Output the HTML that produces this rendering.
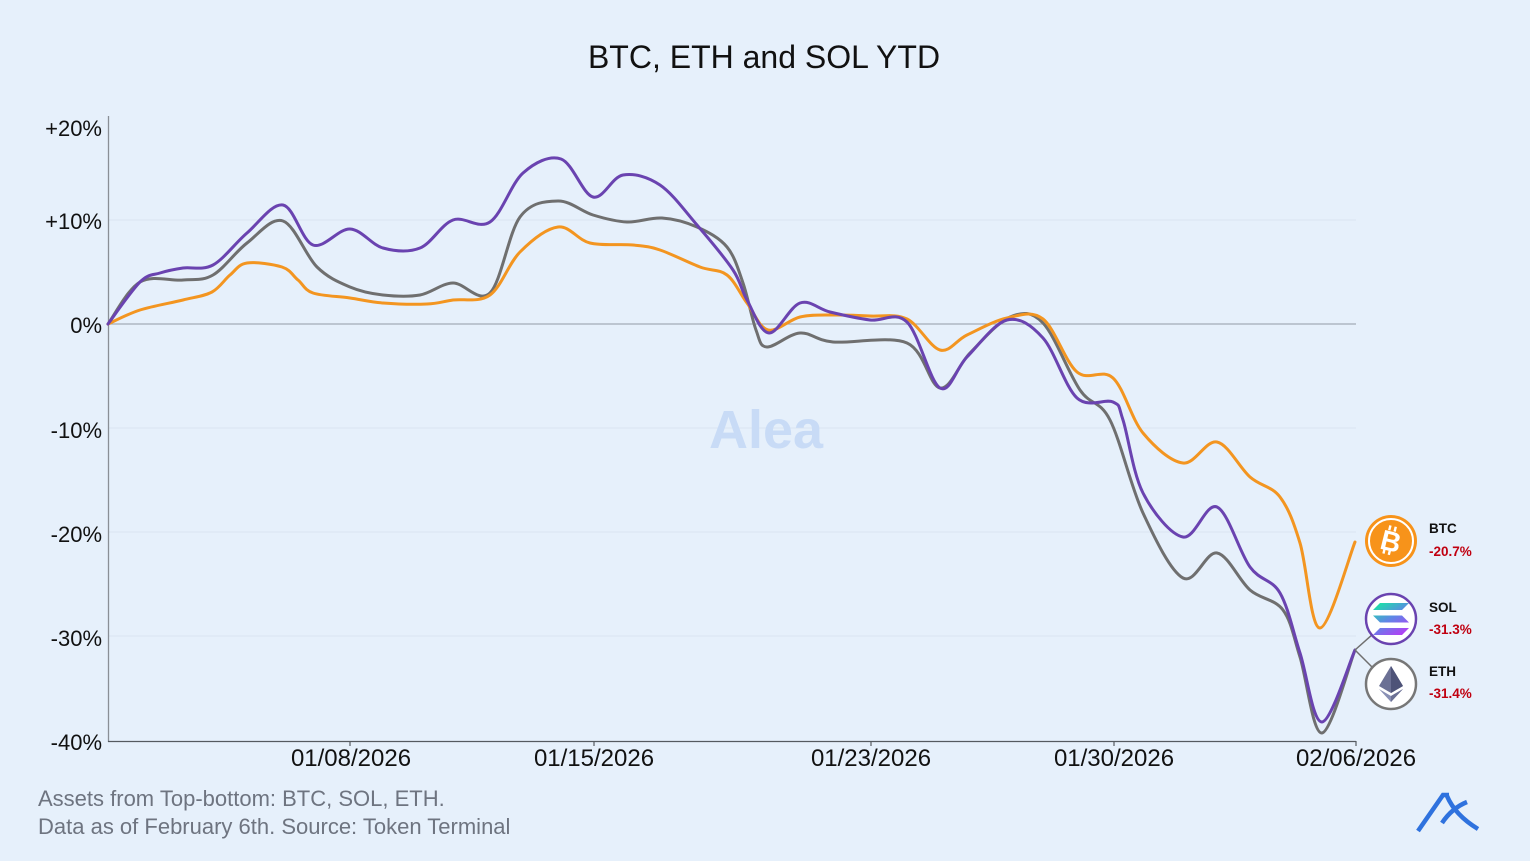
<!DOCTYPE html>
<html><head><meta charset="utf-8">
<style>
html,body{margin:0;padding:0;background:#e6f0fb;}
svg{display:block;}
text{font-family:"Liberation Sans",sans-serif;}
</style></head>
<body>
<svg id="s" width="1530" height="861" viewBox="0 0 1530 861" xmlns="http://www.w3.org/2000/svg">
<defs>
<linearGradient id="solg" gradientUnits="userSpaceOnUse" x1="1380" y1="602" x2="1400" y2="636">
<stop offset="0" stop-color="#19e3a6"/><stop offset="0.5" stop-color="#5f86e6"/><stop offset="1" stop-color="#b33ef5"/>
</linearGradient>
</defs>
<rect width="1530" height="861" fill="#e6f0fb"/>
<text x="764" y="68" font-size="32" text-anchor="middle" fill="#111">BTC, ETH and SOL YTD</text>

<!-- gridlines -->
<g stroke="#d9e4f1" stroke-width="1">
<line x1="108" y1="220" x2="1356" y2="220"/>
<line x1="108" y1="428" x2="1356" y2="428"/>
<line x1="108" y1="532" x2="1356" y2="532"/>
<line x1="108" y1="636" x2="1356" y2="636"/>
</g>
<line x1="108" y1="324" x2="1356" y2="324" stroke="#a4abb6" stroke-width="1.2"/>

<text x="766" y="448" font-size="54" font-weight="bold" text-anchor="middle" fill="#c8dbf6">Alea</text>

<!-- axes -->
<line x1="108.5" y1="116" x2="108.5" y2="742" stroke="#8a8f96" stroke-width="1.3"/>
<line x1="108" y1="741.5" x2="1356" y2="741.5" stroke="#555a60" stroke-width="1.3"/>
<g stroke="#555a60" stroke-width="1.2">
<line x1="350" y1="741" x2="350" y2="746"/>
<line x1="594" y1="741" x2="594" y2="746"/>
<line x1="871" y1="741" x2="871" y2="746"/>
<line x1="1114" y1="741" x2="1114" y2="746"/>
<line x1="1356" y1="741" x2="1356" y2="746"/>
</g>

<g font-size="22" text-anchor="end" fill="#111">
<text x="102" y="136">+20%</text>
<text x="102" y="229">+10%</text>
<text x="102" y="333">0%</text>
<text x="102" y="438">-10%</text>
<text x="102" y="542">-20%</text>
<text x="102" y="646">-30%</text>
<text x="102" y="750">-40%</text>
</g>
<g font-size="24" text-anchor="middle" fill="#111">
<text x="351" y="766">01/08/2026</text>
<text x="594" y="766">01/15/2026</text>
<text x="871" y="766">01/23/2026</text>
<text x="1114" y="766">01/30/2026</text>
<text x="1356" y="766">02/06/2026</text>
</g>

<g fill="none" stroke-width="3" stroke-linejoin="round" stroke-linecap="round">
<path id="pg" stroke="#6f6f6f"/>
<path id="po" stroke="#f39520"/>
<path id="pp" stroke="#6a43b0"/>
</g>

<!-- connectors -->
<g stroke="#6f6f6f" stroke-width="1.5">
<line x1="1355" y1="650" x2="1373" y2="634"/>
<line x1="1355" y1="650" x2="1372" y2="667"/>
</g>

<!-- BTC icon -->
<circle cx="1391" cy="541" r="26" fill="#f7931a"/>
<circle cx="1391" cy="541" r="22" fill="none" stroke="#fff" stroke-width="2"/>
<g transform="rotate(14 1391 541)">
<text x="1391" y="551" font-size="28" font-weight="bold" text-anchor="middle" fill="#fff">B</text>
<rect x="1385.5" y="526" width="2.4" height="5" fill="#fff"/>
<rect x="1391" y="526" width="2.4" height="5" fill="#fff"/>
<rect x="1385.5" y="550" width="2.4" height="5" fill="#fff"/>
<rect x="1391" y="550" width="2.4" height="5" fill="#fff"/>
</g>

<!-- SOL icon -->
<circle cx="1391" cy="619" r="25" fill="#fff" stroke="#6a43b0" stroke-width="2.5"/>
<g fill="url(#solg)">
<polygon points="1380,603 1409,603 1402,610 1373,610"/>
<polygon points="1373,615.5 1402,615.5 1409,622.5 1380,622.5"/>
<polygon points="1380,628 1409,628 1402,635 1373,635"/>
</g>

<!-- ETH icon -->
<circle cx="1391" cy="684" r="25" fill="#fff" stroke="#777" stroke-width="2.5"/>
<polygon points="1391,666 1379,686 1391,693 1403,686" fill="#6b7094"/>
<polygon points="1391,666 1391,693 1403,686" fill="#4e5378"/>
<polygon points="1379,689 1391,702 1403,689 1391,696" fill="#8990b5"/>
<polygon points="1391,696 1391,702 1403,689" fill="#6b7094"/>

<g font-weight="bold">
<text x="1429" y="533" font-size="13.5" fill="#111">BTC</text>
<text x="1429" y="556" font-size="13.5" fill="#c00010">-20.7%</text>
<text x="1429" y="612" font-size="13.5" fill="#111">SOL</text>
<text x="1429" y="634" font-size="13.5" fill="#c00010">-31.3%</text>
<text x="1429" y="676" font-size="13.5" fill="#111">ETH</text>
<text x="1429" y="698" font-size="13.5" fill="#c00010">-31.4%</text>
</g>

<g font-size="22" fill="#6e7480">
<text x="38" y="806">Assets from Top-bottom: BTC, SOL, ETH.</text>
<text x="38" y="834">Data as of February 6th. Source: Token Terminal</text>
</g>

<!-- logo -->
<g fill="none" stroke="#2f72de" stroke-width="4.5" stroke-linecap="butt">
<path d="M1418,831 L1443,795 L1449,795"/>
<path d="M1447,796 Q1455,815 1478,829"/>
<path d="M1442,823 Q1452,808 1467,802"/>
</g>
</svg>
<script>
function cr(pts){
  var d="M"+pts[0][0]+","+pts[0][1];
  for(var i=0;i<pts.length-1;i++){
    var p0=pts[i>0?i-1:0],p1=pts[i],p2=pts[i+1],p3=pts[i+2<pts.length?i+2:pts.length-1];
    var c1x=p1[0]+(p2[0]-p0[0])/6,c1y=p1[1]+(p2[1]-p0[1])/6;
    var c2x=p2[0]-(p3[0]-p1[0])/6,c2y=p2[1]-(p3[1]-p1[1])/6;
    d+=" C"+c1x.toFixed(1)+","+c1y.toFixed(1)+" "+c2x.toFixed(1)+","+c2y.toFixed(1)+" "+p2[0]+","+p2[1];
  }
  return d;
}
var O=[[108,324],[140,310],[183,300],[212,292],[230,275],[247,263],[282,267],[298,280],[313,293],[350,298],[383,303],[427,304],[453,300],[490,295],[520,252],[558,227],[590,243],[633,245],[660,250],[700,267],[727,275],[747,303],[768,330],[800,317],[833,315],[870,316],[907,319],[940,350],[967,335],[1007,318],[1043,319],[1077,372],[1113,378],[1143,433],[1183,463],[1217,442],[1250,477],[1280,497],[1300,543],[1320,628],[1355,542]];
var P=[[108,324],[140,282],[160,273],[183,268],[213,265],[247,233],[283,205],[313,245],[350,229],[383,248],[420,248],[453,220],[490,222],[523,173],[561,159],[593,197],[623,175],[660,185],[697,225],[733,270],[747,300],[769,333],[800,303],[830,312],[870,320],[907,322],[940,388],[967,357],[1007,320],[1043,338],[1077,398],[1113,402],[1123,420],[1143,493],[1183,537],[1217,507],[1250,567],[1280,593],[1300,653],[1322,722],[1355,650]];
var G=[[108,324],[140,282],[183,280],[213,275],[247,243],[283,221],[317,267],[350,287],[383,295],[420,295],[453,283],[490,293],[520,217],[558,201],[593,215],[627,222],[662,218],[697,227],[727,247],[743,283],[756,330],[767,347],[800,333],[833,342],[907,343],[940,388],[970,353],[1010,317],[1043,323],[1080,390],[1110,420],[1143,513],[1183,578],[1217,553],[1250,590],[1283,610],[1300,657],[1322,733],[1355,650]];
document.getElementById("po").setAttribute("d",cr(O));
document.getElementById("pp").setAttribute("d",cr(P));
document.getElementById("pg").setAttribute("d",cr(G));
</script>
</body></html>
